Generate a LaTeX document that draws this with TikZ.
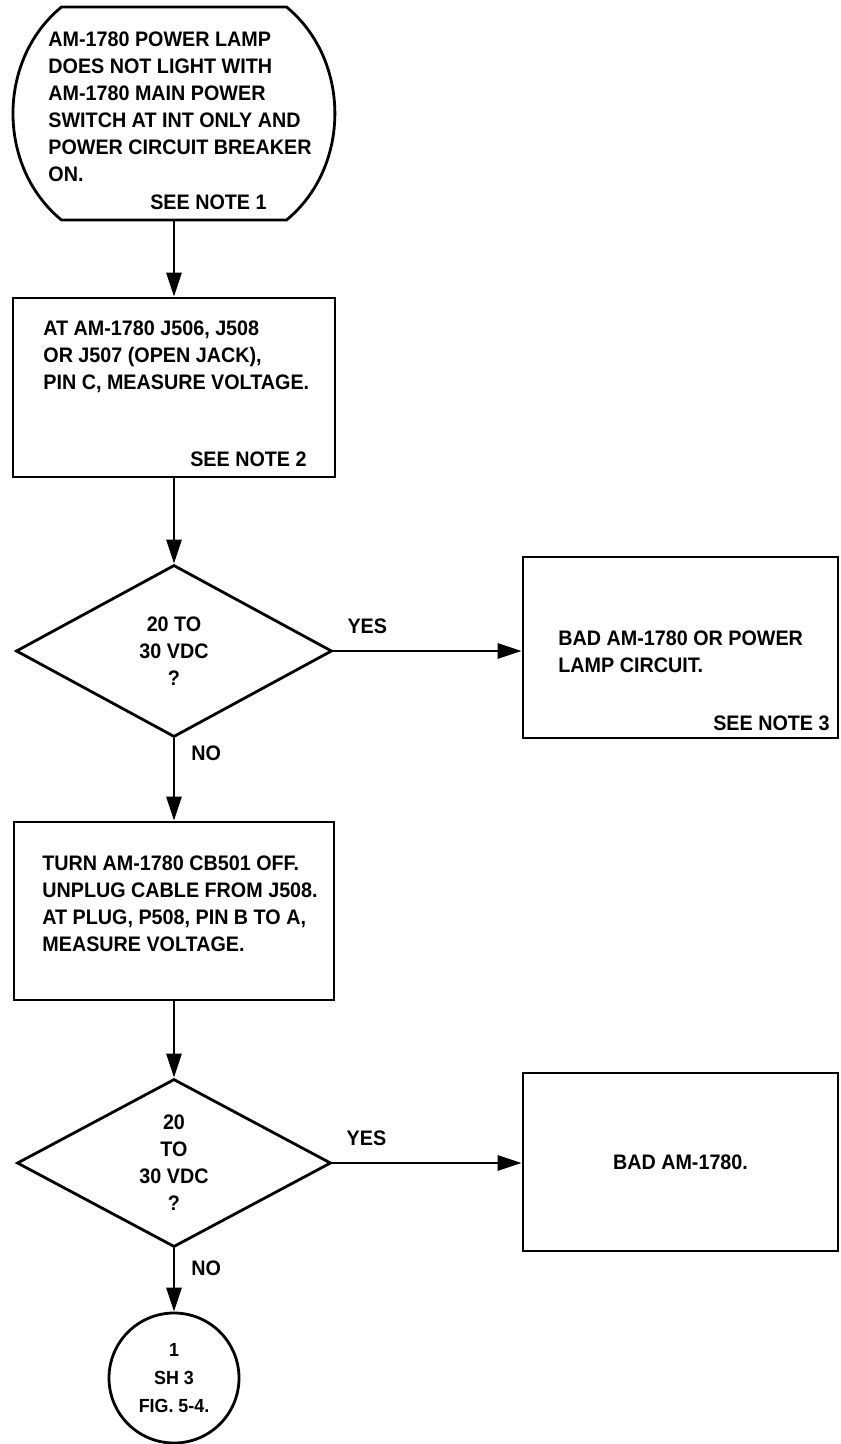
\documentclass[tikz,border=0pt]{standalone}
\usepackage{fontspec}
\newfontfamily\chartfont{Liberation Sans}[FakeStretch=0.94]
\usetikzlibrary{arrows.meta, positioning, shapes.geometric}

\begin{document}
\begin{tikzpicture}[x=0.5pt, y=-0.5pt,
		every node/.style={font=\chartfont\bfseries\fontsize{10.5}{13.5}\selectfont},
		outline/.style={line width=1.4pt, line join=miter},
		procbox/.style={draw, line width=1.4pt, rectangle, inner sep=0pt},
		decision/.style={draw, line width=1.4pt, diamond, inner sep=0pt, align=center},
		connector/.style={draw, line width=1.4pt, ellipse, inner sep=0pt, align=center,
			font=\chartfont\bfseries\fontsize{9.5}{14}\selectfont},
		txt/.style={align=left, inner sep=0pt},
		answer/.style={inner sep=0pt},
		flow/.style={line width=1.4pt, -{Triangle[length=12pt, width=7.5pt]}}]
			\useasboundingbox (0,0) rectangle (840,1444);
			% Start terminal:
			\draw[outline] (61.5,7) -- (286.5,7) .. controls (351,60) and (351,167) .. (286.5,220)
				-- (61.5,220) .. controls (-3.2,167) and (-3.2,60) .. cycle;
			\coordinate (startend) at (174,220);
			\node[txt, anchor=west] (startmsg) at (48,107) {AM-1780 POWER LAMP\\DOES NOT LIGHT WITH\\AM-1780 MAIN POWER\\SWITCH AT INT ONLY AND\\POWER CIRCUIT BREAKER\\ON.};
			\node[answer, anchor=east] (note1) at (267,202) {SEE NOTE 1};
			% Boxes and decisions:
			\node[procbox, minimum width=161pt, minimum height=89.5pt] (check1) at (174,387.5) {};
			\node[txt, anchor=west] (check1msg) at (43,356.5) {AT AM-1780 J506, J508\\OR J507 (OPEN JACK),\\PIN C, MEASURE VOLTAGE.};
			\node[answer, anchor=east] (note2) at (307,459) {SEE NOTE 2};
			\node[decision, minimum width=158pt, minimum height=86pt] (volt1) at (174,651) {20 TO\\30 VDC\\?};
			\node[procbox, minimum width=157.5pt, minimum height=90.5pt] (bad1) at (680.5,647.5) {};
			\node[txt, anchor=west] (bad1msg) at (558,651.5) {BAD AM-1780 OR POWER\\LAMP CIRCUIT.};
			\node[answer, anchor=east] (note3) at (830,723) {SEE NOTE 3};
			\node[procbox, minimum width=160pt, minimum height=89pt] (check2) at (174,911) {};
			\node[txt, anchor=west] (check2msg) at (42,903.5) {TURN AM-1780 CB501 OFF.\\UNPLUG CABLE FROM J508.\\AT PLUG, P508, PIN B TO A,\\MEASURE VOLTAGE.};
			\node[decision, minimum width=157pt, minimum height=84pt] (volt2) at (174,1163) {20\\TO\\30 VDC\\?};
			\node[procbox, minimum width=157.5pt, minimum height=89pt] (bad2) at (680.5,1162) {BAD AM-1780.};
			\node[connector, minimum width=65pt, minimum height=65pt] (sheet3) at (174,1378) {1\\SH 3\\FIG. 5-4.};
			% Wires:
			\draw[flow] (startend) -- (check1.north);
			\draw[flow] (check1.south) -- (volt1.north);
			\draw[flow] (volt1.east) -- node[answer, pos=0.18, above=8pt] (yes1) {YES} (volt1.east -| bad1.west);
			\draw[flow] (volt1.south) -- node[answer, pos=0.18, right=8pt] (no1) {NO} (check2.north);
			\draw[flow] (check2.south) -- (volt2.north);
			\draw[flow] (volt2.east) -- node[answer, pos=0.18, above=8pt] (yes2) {YES} (volt2.east -| bad2.west);
			\draw[flow] (volt2.south) -- node[answer, pos=0.32, right=8pt] (no2) {NO} (sheet3.north);
		\end{tikzpicture}
\end{document}
